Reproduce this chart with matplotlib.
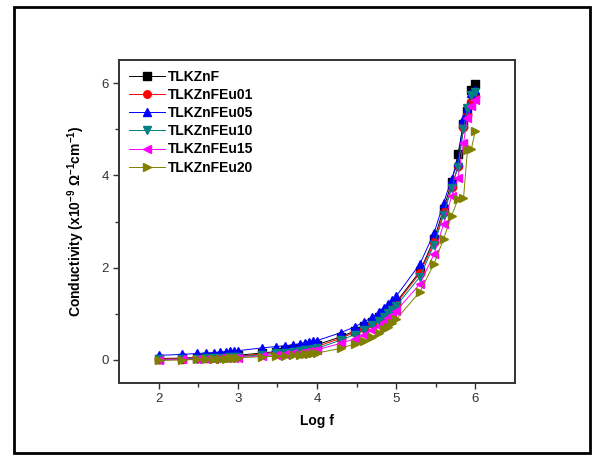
import matplotlib
matplotlib.use('Agg')
import matplotlib.pyplot as plt
from matplotlib.patches import Rectangle

plt.rcParams['font.family'] = ['Liberation Sans', 'DejaVu Sans']
plt.rcParams['mathtext.fontset'] = 'custom'
plt.rcParams['mathtext.rm'] = 'Liberation Sans:bold'
plt.rcParams['mathtext.default'] = 'rm'

log_f = [2.00, 2.30, 2.48, 2.60, 2.70, 2.78, 2.85, 2.90, 2.95, 3.00,
         3.30, 3.48, 3.60, 3.70, 3.78, 3.85, 3.90, 3.95, 4.00,
         4.30, 4.48, 4.60, 4.70, 4.78, 4.85, 4.90, 4.95, 5.00,
         5.30, 5.48, 5.60, 5.70, 5.78, 5.85, 5.90, 5.95, 6.00]

tlkznf = [0.03, 0.04, 0.05, 0.06, 0.07, 0.08, 0.08, 0.09, 0.09, 0.10,
          0.15, 0.18, 0.21, 0.23, 0.25, 0.27, 0.29, 0.31, 0.33,
          0.50, 0.63, 0.73, 0.83, 0.92, 1.01, 1.09, 1.17, 1.25,
          1.92, 2.62, 3.28, 3.85, 4.46, 5.12, 5.40, 5.85, 5.97]
eu01 = [0.02, 0.03, 0.04, 0.05, 0.06, 0.06, 0.07, 0.07, 0.08, 0.08,
        0.13, 0.16, 0.18, 0.20, 0.22, 0.24, 0.25, 0.27, 0.29,
        0.47, 0.60, 0.70, 0.80, 0.90, 0.99, 1.07, 1.15, 1.22,
        1.88, 2.55, 3.20, 3.75, 4.20, 5.05, 5.30, 5.60, 5.72]
eu05 = [0.10, 0.12, 0.14, 0.15, 0.16, 0.17, 0.18, 0.19, 0.19, 0.20,
        0.26, 0.29, 0.31, 0.33, 0.35, 0.37, 0.39, 0.40, 0.42,
        0.59, 0.72, 0.83, 0.93, 1.04, 1.13, 1.22, 1.30, 1.38,
        2.08, 2.76, 3.41, 3.93, 4.30, 5.22, 5.46, 5.78, 5.85]
eu10 = [0.01, 0.02, 0.03, 0.04, 0.04, 0.05, 0.05, 0.06, 0.06, 0.07,
        0.11, 0.14, 0.16, 0.18, 0.19, 0.21, 0.22, 0.24, 0.25,
        0.43, 0.55, 0.65, 0.75, 0.84, 0.93, 1.01, 1.09, 1.17,
        1.80, 2.50, 3.15, 3.72, 4.18, 5.00, 5.45, 5.75, 5.80]
eu15 = [0.00, 0.01, 0.02, 0.03, 0.03, 0.04, 0.04, 0.04, 0.05, 0.05,
        0.09, 0.11, 0.13, 0.15, 0.16, 0.18, 0.19, 0.20, 0.22,
        0.36, 0.46, 0.55, 0.64, 0.73, 0.82, 0.90, 0.98, 1.06,
        1.65, 2.30, 2.95, 3.55, 3.95, 4.70, 5.25, 5.50, 5.63]
eu20 = [-0.01, 0.00, 0.01, 0.02, 0.02, 0.03, 0.03, 0.04, 0.04, 0.05,
        0.07, 0.08, 0.09, 0.10, 0.11, 0.12, 0.13, 0.14, 0.15,
        0.25, 0.35, 0.42, 0.50, 0.58, 0.66, 0.72, 0.79, 0.88,
        1.48, 2.09, 2.63, 3.13, 3.48, 3.50, 4.55, 4.58, 4.97]

series = [('TLKZnF', tlkznf, 'black', 's'),
          ('TLKZnFEu01', eu01, 'red', 'o'),
          ('TLKZnFEu05', eu05, 'blue', '^'),
          ('TLKZnFEu10', eu10, '#008080', 'v'),
          ('TLKZnFEu15', eu15, 'magenta', '<'),
          ('TLKZnFEu20', eu20, '#808000', '>')]

fig = plt.figure(figsize=(5.97, 4.55), dpi=100)
ax = fig.add_axes([0.1993, 0.1582, 0.6633, 0.7099])

for name, vals, col, mk in series:
    ax.plot(log_f, vals, color=col, marker=mk, markersize=6, linewidth=0.7,
            label=name)

ax.set_xlim(1.5, 6.5)
ax.set_ylim(-0.5, 6.5)
ax.set_xticks([2, 3, 4, 5, 6])
ax.set_xticks([2.5, 3.5, 4.5, 5.5], minor=True)
ax.set_yticks([0, 2, 4, 6])
ax.set_yticks([1, 3, 5], minor=True)
ax.tick_params(which='both', direction='out', width=1.0, color='#333333',
               labelsize=9.5, labelcolor='#333333')
ax.tick_params(which='major', length=4)
ax.tick_params(which='minor', length=3)
for sp in ax.spines.values():
    sp.set_linewidth(1.4)
    sp.set_color('#333333')

ax.set_xlabel('Log f', fontsize=10, fontweight='bold', labelpad=6)
ax.set_ylabel('Conductivity (x10$^{-9}$ Ω$^{-1}$cm$^{-1}$)',
              fontsize=10, fontweight='bold', labelpad=10)

leg = ax.legend(loc='upper left', frameon=False, markerscale=0.9,
                prop={'weight': 'bold', 'size': 10},
                handlelength=2.6, handletextpad=0.25, labelspacing=0.3,
                borderaxespad=0.3)

fig.patches.append(Rectangle((14 / 597, 2 / 455), 576 / 597, 446 / 455,
                             transform=fig.transFigure, fill=False,
                             edgecolor='black', linewidth=2))

plt.savefig('out.png', dpi=100)
